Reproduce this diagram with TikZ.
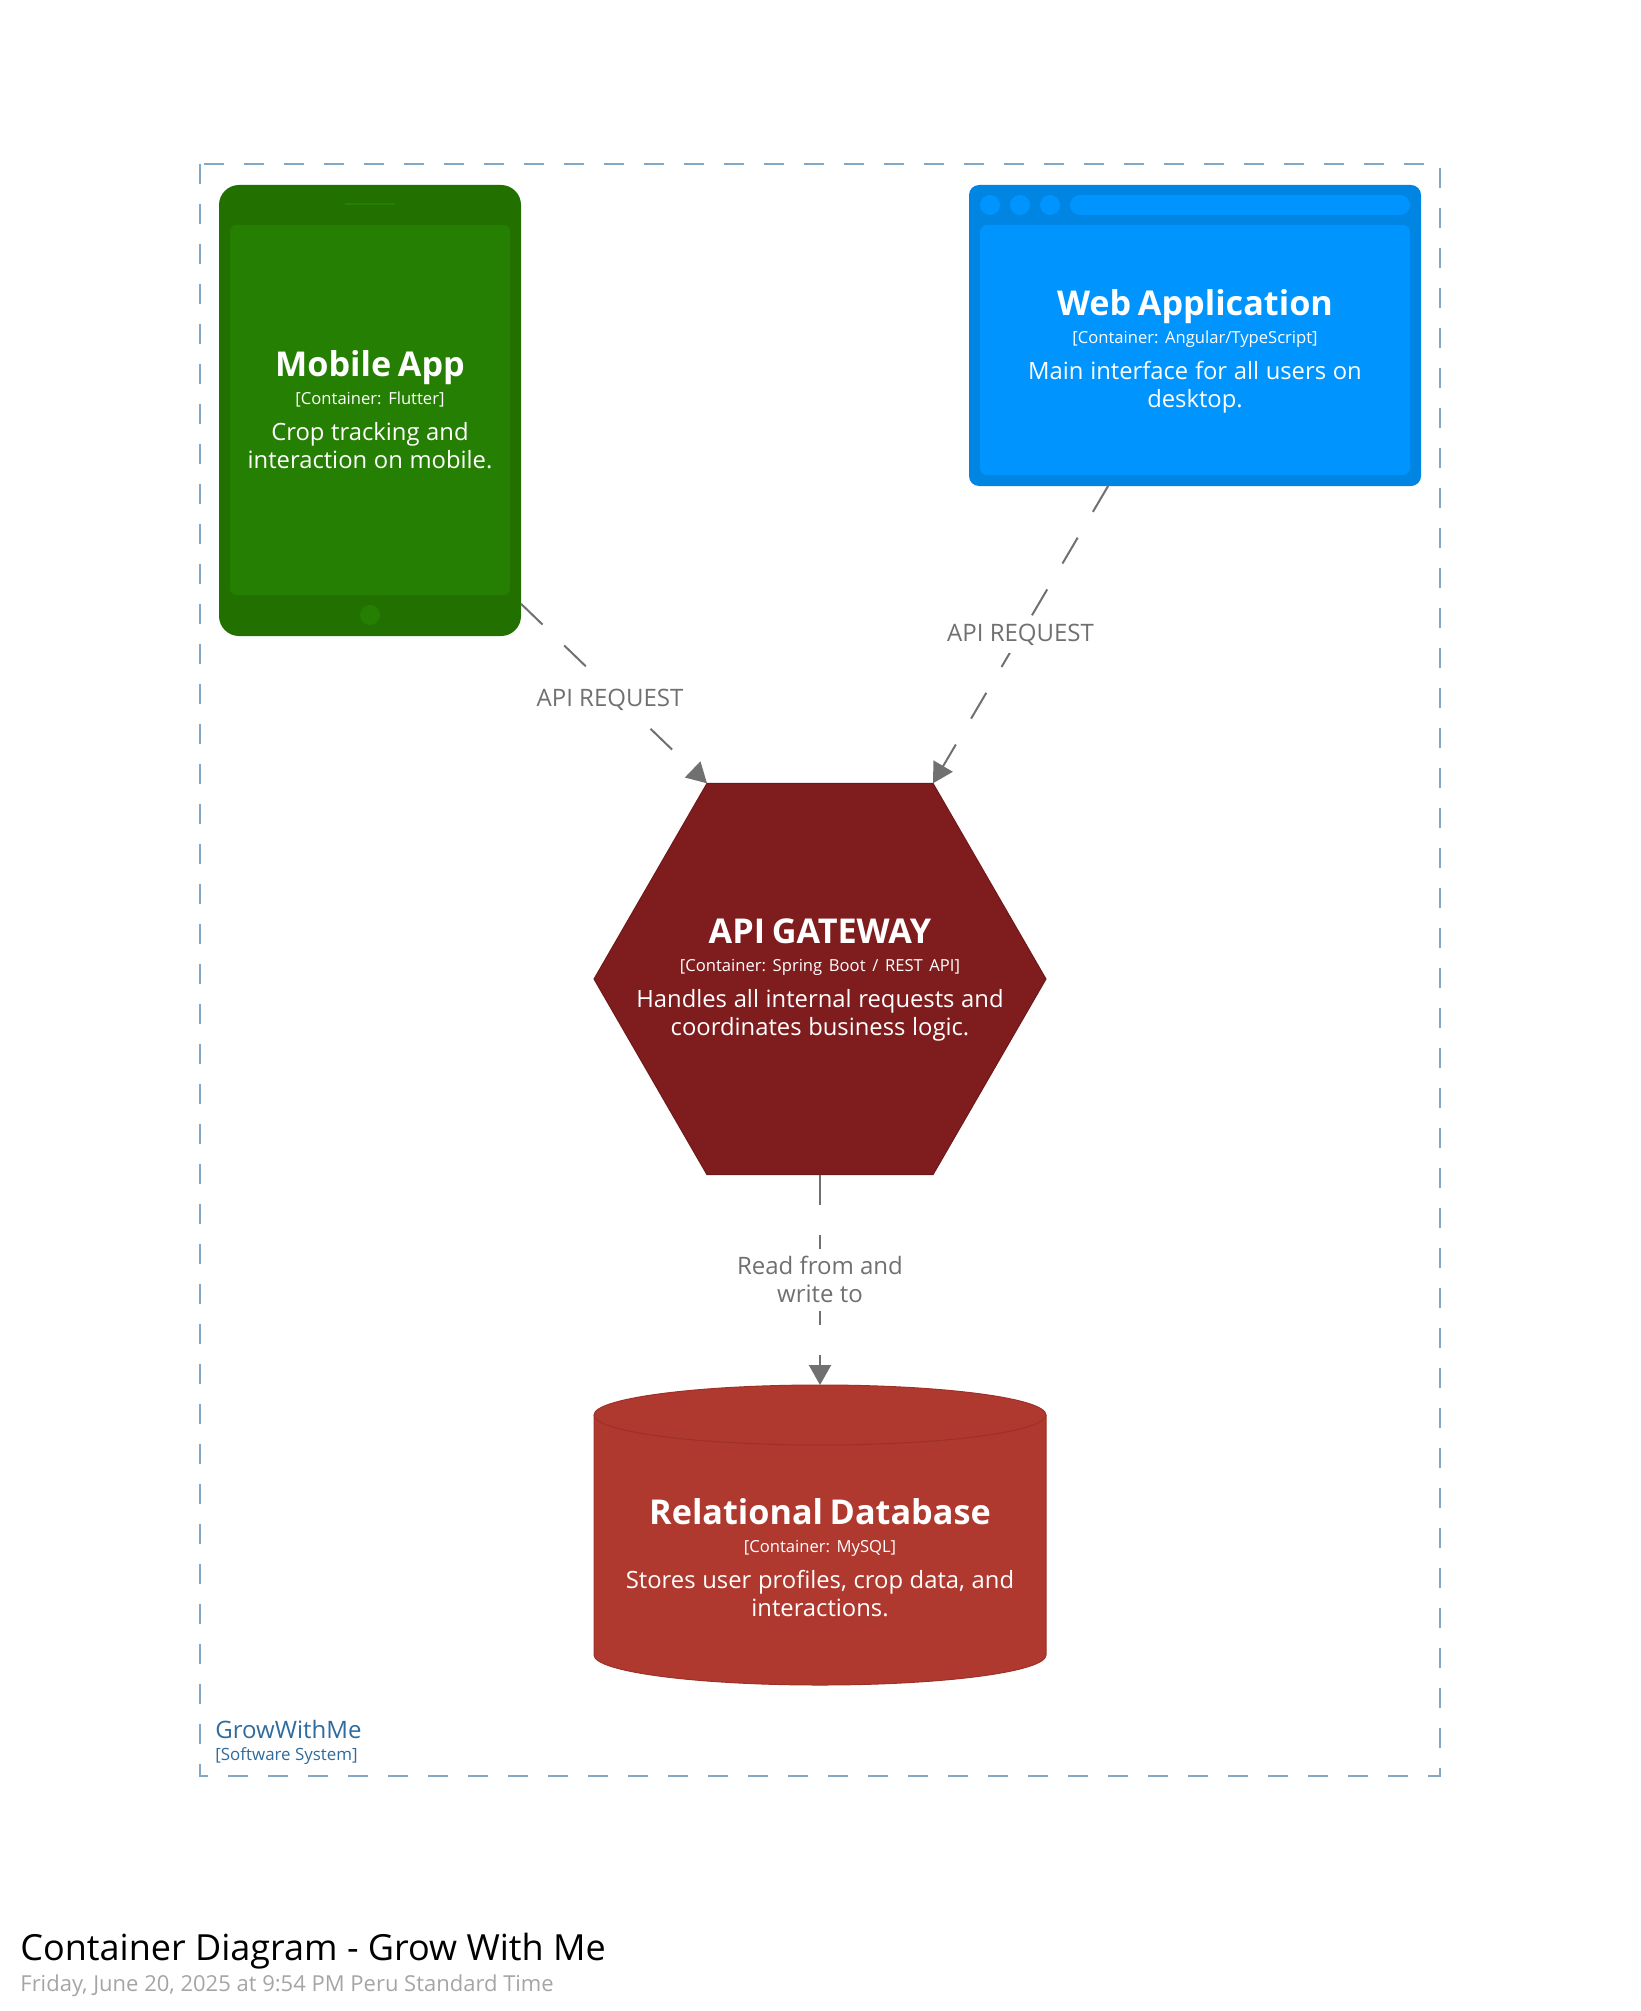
\documentclass[tikz,border=0pt]{standalone}
\usepackage{fontspec}
\setmainfont{Open Sans}
\usetikzlibrary{arrows.meta,shapes.geometric}

\definecolor{mobileDark}{RGB}{33,112,0}
\definecolor{mobileLight}{RGB}{37,127,2}
\definecolor{webDark}{RGB}{0,133,227}
\definecolor{webLight}{RGB}{0,148,255}
\definecolor{gatewayRed}{RGB}{127,28,29}
\definecolor{gatewayEdge}{RGB}{112,24,25}
\definecolor{dbRed}{RGB}{176,57,47}
\definecolor{dbEdge}{RGB}{158,48,40}
\definecolor{relGrey}{RGB}{112,112,112}
\definecolor{boundaryBlue}{RGB}{130,167,199}
\definecolor{systemBlue}{RGB}{46,107,158}
\definecolor{dateGrey}{RGB}{165,165,165}

\tikzset{
  container/.style={inner sep=0pt, outer sep=0pt},
  caption/.style={text=white, text width=215pt, align=center, inner sep=0pt},
  rel/.style={draw=relGrey, line width=1pt, dash pattern=on 15pt off 15pt,
    -{Triangle[length=10pt,width=11pt]}},
  rellabel/.style={fill=white, text=relGrey, font=\fontsize{12}{14}\selectfont,
    align=center, inner sep=4pt},
  boundary/.style={draw=boundaryBlue, line width=1pt, dash pattern=on 10pt off 10pt},
}

% title / technology / description stack
\newcommand{\elemtext}[3]{{\fontsize{17.1}{17}\selectfont\bfseries #1\par}%
  {\fontsize{8.3}{14}\selectfont #2\par}\vspace{4pt}%
  {\fontsize{11.9}{14}\selectfont #3\par}}

\begin{document}
\frenchspacing
\begin{tikzpicture}[x=0.5pt,y=-0.5pt]
  \useasboundingbox (0,0) rectangle (1640,2011);

  % software system boundary
  \draw[boundary] (200,164) rectangle (1440,1776);
  \node[anchor=base west, inner sep=0pt, text=systemBlue, font=\fontsize{12}{14}\selectfont] (sysName) at (215,1738) {GrowWithMe};
  \node[anchor=base west, inner sep=0pt, text=systemBlue, font=\fontsize{8.45}{10}\selectfont] (sysType) at (215,1760) {[Software System]};

  % mobile app
  \node[container, fill=mobileDark, rounded corners=10pt, minimum width=151pt, minimum height=225.5pt] (mobile) at (370,410.5) {};
  \fill[mobileLight, rounded corners=3pt] (230,225) rectangle (510,595);
  \draw[mobileLight, line width=1pt] (345,204) -- (395,204);
  \fill[mobileLight] (370,615) circle (5pt);
  \node[caption] (mobileText) at (370,410) {\elemtext{Mobile App}{[Container: Flutter]}{Crop tracking and\\interaction on mobile.}};

  % web application
  \node[container, fill=webDark, rounded corners=5pt, minimum width=226pt, minimum height=150.5pt] (web) at (1195,335.5) {};
  \fill[webLight, rounded corners=3.5pt] (980,225) rectangle (1410,475);
  \foreach \dx in {990,1020,1050}
    \fill[webLight] (\dx,205) circle (5pt);
  \fill[webLight, rounded corners=5pt] (1070,195) rectangle (1410,215);
  \node[caption] (webText) at (1195,351) {\elemtext{Web Application}{[Container: Angular/TypeScript]}{Main interface for all users on\\desktop.}};

  % api gateway
  \node[container, regular polygon, regular polygon sides=6, minimum size=226pt, fill=gatewayRed, draw=gatewayEdge, line width=0.5pt] (gateway) at (820,979) {};
  \node[caption] (gatewayText) at (820,980) {\elemtext{API GATEWAY}{[Container: Spring Boot / REST API]}{Handles all internal requests and\\coordinates business logic.}};

  % relational database
  \node[container, minimum width=226pt, minimum height=150pt] (db) at (820,1535) {};
  \filldraw[fill=dbRed, draw=dbEdge, line width=0.5pt] (594,1415) -- (594,1655)
    arc[start angle=180, end angle=360, x radius=113pt, y radius=15pt] -- (1046,1415)
    arc[start angle=0, end angle=180, x radius=113pt, y radius=15pt] -- cycle;
  \draw[dbEdge, line width=0.5pt] (594,1415) arc[start angle=180, end angle=360, x radius=113pt, y radius=15pt];
  \node[caption] (dbText) at (820,1558) {\elemtext{Relational Database}{[Container: MySQL]}{Stores user profiles, crop data, and\\interactions.}};

  % relationships
  \draw[rel] (mobile.-52) -- node[rellabel, pos=0.5, xshift=-2pt, yshift=-3pt] (mobileRel) {API REQUEST} (gateway.120);
  \draw[rel] (web.240) -- node[rellabel] (webRel) {API REQUEST} (gateway.60);
  \draw[rel] (gateway.south) -- node[rellabel] (dbRel) {Read from and\\write to} (db.north);

  % diagram title
  \node[anchor=base west, inner sep=0pt, font=\fontsize{18}{20}\selectfont] (diagTitle) at (20,1960) {Container Diagram - Grow With Me};
  \node[anchor=base west, inner sep=0pt, text=dateGrey, font=\fontsize{11}{13}\selectfont] (diagDate) at (20,1991) {Friday, June 20, 2025 at 9:54 PM Peru Standard Time};
\end{tikzpicture}
\end{document}
